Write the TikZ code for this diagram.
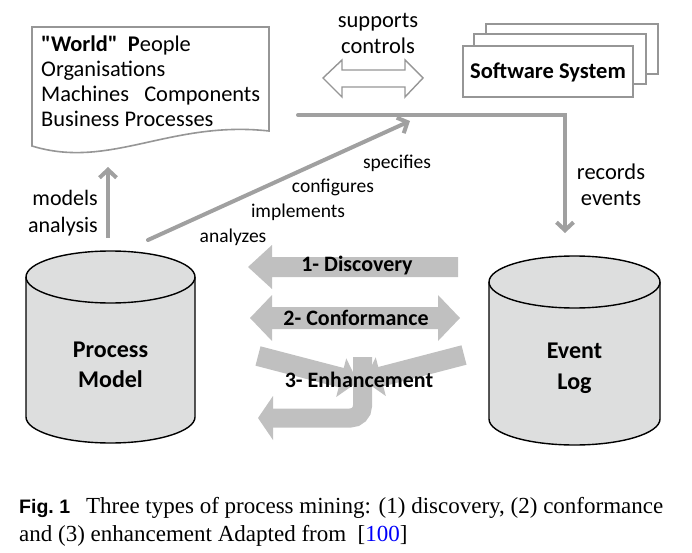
\documentclass[tikz,border=0pt]{standalone}
\usepackage{fontspec}
\setmainfont{Carlito}[Ligatures=TeXOff]
\newfontfamily\capserif{Liberation Serif}
\newfontfamily\capsans{Liberation Sans}
\usetikzlibrary{arrows.meta}
\definecolor{linegray}{RGB}{160,160,160}
\definecolor{blockgray}{RGB}{192,192,192}
\definecolor{cylfill}{RGB}{221,222,222}
\definecolor{docgray}{RGB}{150,150,150}
\definecolor{linkblue}{RGB}{0,0,250}
\newcommand{\mycyl}[5]{%
  \filldraw[cylstyle] (#1-#2,#3) -- (#1-#2,#4)
    arc[start angle=180,end angle=360,x radius=#2pt,y radius=#5pt]
    -- (#1+#2,#3)
    arc[start angle=0,end angle=180,x radius=#2pt,y radius=#5pt] -- cycle;
  \draw[cylstyle,fill=none] (#1-#2,#3)
    arc[start angle=180,end angle=360,x radius=#2pt,y radius=#5pt];}
\newcommand{\blkarrow}[7]{%
  \fill[blockgray,shift={(#1,#2)},rotate=#3]
    (0,-#5/2) -- (#4-#7,-#5/2) -- (#4-#7,-#6/2) -- (#4,0)
    -- (#4-#7,#6/2) -- (#4-#7,#5/2) -- (0,#5/2) -- cycle;}
\begin{document}
\begin{tikzpicture}[x=1pt,y=-1pt,
  flow/.style={draw=linegray,line width=4pt,-{Straight Barb[length=8pt,width=17pt]}},
  cylstyle/.style={draw=black,line width=1.4pt,fill=cylfill},
  graybox/.style={draw=docgray,line width=1.6pt,fill=white},
  lbl/.style={font=\fontsize{22.5}{26}\selectfont,align=center,inner sep=0pt},
  small/.style={font=\fontsize{19.5}{22}\selectfont,inner sep=0pt},
  big/.style={font=\fontsize{24}{30}\selectfont\bfseries,align=center,inner sep=0pt},
  blk/.style={font=\fontsize{22}{24}\selectfont\bfseries,inner sep=0pt}]
\useasboundingbox (0,0) rectangle (692,553);

% World document
\draw[graybox] (32,27) -- (269,27) -- (269,131)
  .. controls (170,120) and (110,170) .. (32,146) -- cycle;
\node[anchor=north west,align=left,inner sep=0pt,font=\fontsize{22.4}{25}\selectfont]
  (world) at (41,36) {\textbf{"World"}\ \ \textbf{P}eople\\Organisations\\Machines\ \ \ Components\\Business Processes};

% supports / controls
\node[lbl] (sup) at (378,33) {supports\\controls};
\draw[docgray,line width=1.4pt,fill=white] (323,78) -- (342,60) -- (342,70) -- (405,70)
  -- (405,60) -- (423,78) -- (405,97) -- (405,87) -- (342,87) -- (342,97) -- cycle;

% Software system stack
\draw[graybox] (486,24) rectangle (658,74);
\draw[graybox] (474,34) rectangle (646,84);
\draw[graybox] (463,46) rectangle (633,97);
\node[blk,font=\fontsize{22.5}{24}\selectfont\bfseries] (sw) at (548,72) {Software System};

% records line
\coordinate (wl) at (298,115);
\coordinate (corner) at (565,115);
\coordinate (rectip) at (565,233);
\draw[flow,line cap=round] (wl) -- (corner) -- (rectip);
\node[lbl] (rec) at (611,185) {records\\events};

% cylinders
\mycyl{110.5}{84.5}{277}{417}{26}
\node[big] (pm) at (110.5,365) {Process\\Model};
\mycyl{574.5}{85.5}{282}{419}{26}
\node[big,font=\fontsize{24}{31}\selectfont\bfseries] (el) at (574.5,368) {Event\\Log};

% models analysis
\coordinate (ma0) at (108,238);
\coordinate (ma1) at (108,167);
\draw[flow] (ma0) -- (ma1);
\node[lbl,font=\fontsize{22}{27}\selectfont,align=right,anchor=east] (mod) at (98,213) {models\\analysis};

% diagonal
\coordinate (d0) at (148,240);
\coordinate (d1) at (410,121);
\draw[flow,line cap=round] (d0) -- (d1);
\node[small] (spec) at (397,163) {specifies};
\node[small] (conf) at (333,187) {configures};
\node[small] (impl) at (298,212) {implements};
\node[small] (anal) at (233,237) {analyzes};

% block arrows
\fill[blockgray] (248,267) -- (272,245) -- (272,257) -- (458,257) -- (458,277)
  -- (272,277) -- (272,289) -- cycle;
\fill[blockgray] (250,318) -- (272,295) -- (272,307) -- (438,307) -- (438,295)
  -- (460,318) -- (438,341) -- (438,329) -- (272,329) -- (272,341) -- cycle;
\blkarrow{258}{356}{-14.6}{103}{20}{40}{17}
\blkarrow{464}{355}{194.6}{103}{20}{40}{17}
\draw[blockgray,line width=19pt,rounded corners=12pt] (362.5,357) -- (362.5,418) -- (272,418);
\fill[blockgray] (273,396) -- (258,418) -- (273,440) -- cycle;
\node[blk] (disc) at (357,266) {1- Discovery};
\node[blk] (conform) at (356,318) {2- Conformance};
\node[blk] (enh) at (359,380) {3- Enhancement};

% caption
\node[anchor=west,inner sep=0pt,font=\fontsize{23}{28}\selectfont,align=left] (cap) at (19,522)
  {{\capsans\bfseries\fontsize{19.5}{28}\selectfont Fig.~1}\hspace{16pt}{\capserif Three types of process mining: (1) discovery, (2) conformance}\\
   {\capserif and (3) enhancement Adapted from\ \ [\textcolor{linkblue}{100}]}};
\end{tikzpicture}
\end{document}
